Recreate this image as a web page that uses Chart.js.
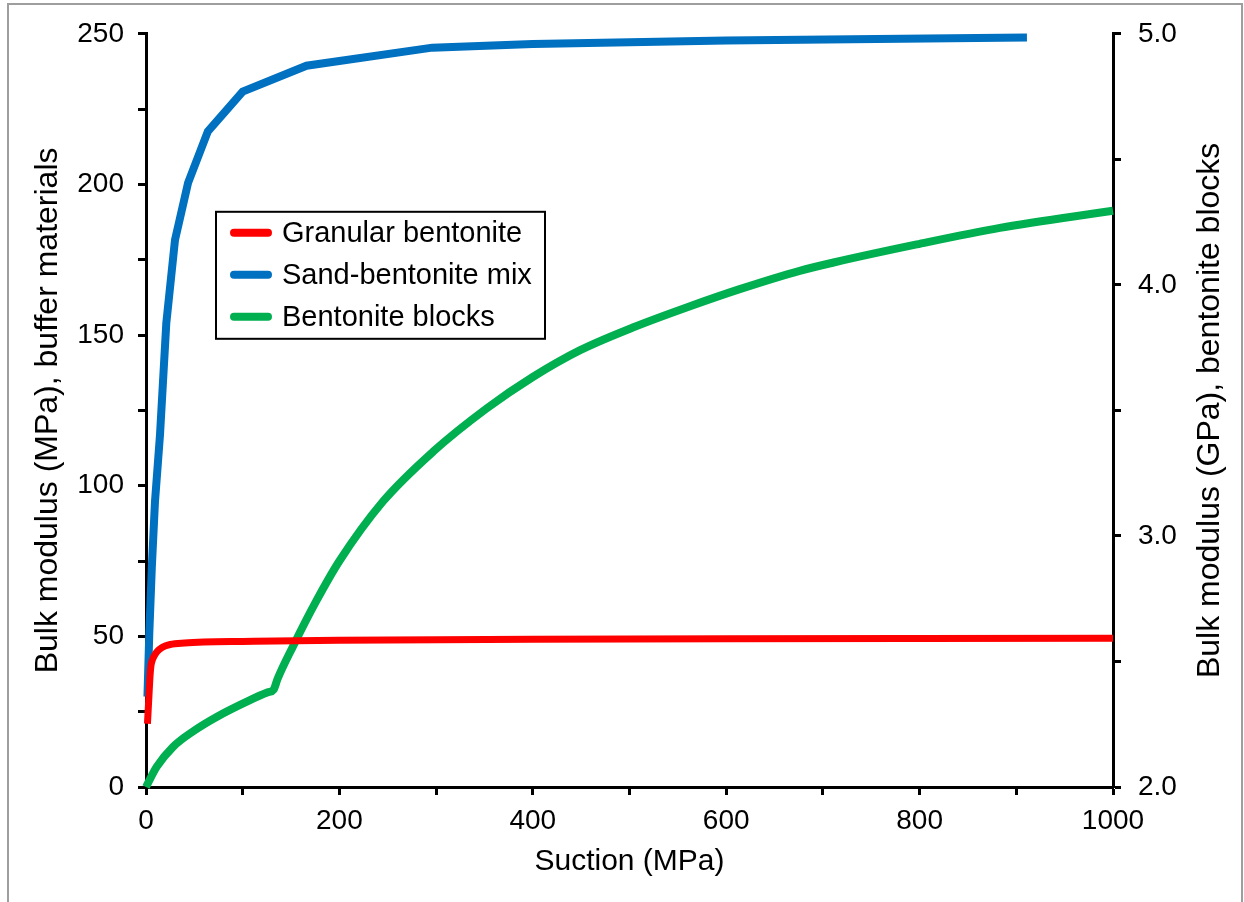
<!DOCTYPE html>
<html>
<head>
<meta charset="utf-8">
<script src="https://cdn.jsdelivr.net/npm/chart.js@4.4.1/dist/chart.umd.min.js"></script>
<style>
  html, body { margin: 0; padding: 0; background: #fff; overflow: hidden; }
  #wrap { position: relative; width: 1244px; height: 902px; }
  #frame { position: absolute; left: 7px; top: 3px; width: 1236px; height: 910px; box-sizing: border-box;
           border: 2px solid #9e9e9e; pointer-events: none; }
  canvas { display: block; }
</style>
</head>
<body>
<div id="wrap">
  <canvas id="c" width="1244" height="902"></canvas>
  <div id="frame"></div>
</div>
<script>
// ---- Data ----
const seriesNames = ['Granular bentonite', 'Sand-bentonite mix', 'Bentonite blocks'];
const seriesColors = ['#FF0000', '#0070C0', '#00B050'];

const granularSuction = [1.5, 3, 4, 5, 7, 11, 17, 25, 40, 60, 100, 200, 400, 600, 800, 1000];
const granularK       = [21, 30, 36, 40, 42.5, 44.8, 46.4, 47.3, 47.8, 48.1, 48.3, 48.7, 49.0, 49.2, 49.3, 49.4];

const sandSuction = [1.5, 3.4, 6, 9.3, 14.5, 21, 30, 43.5, 64, 100, 166, 296, 400, 600, 911];
const sandK       = [30, 51, 72.7, 94.8, 117, 154, 181.6, 200.5, 217.6, 230.8, 239.4, 245.4, 246.6, 247.8, 248.8];

const blockSuction = [0, 11, 28, 50, 73, 107, 126, 132, 136, 152, 176, 200, 245, 297, 352, 400, 449, 504, 559, 614, 676, 711, 797, 883, 1000];
const blockK       = [2.0, 2.08, 2.16, 2.225, 2.279, 2.345, 2.377, 2.388, 2.43, 2.56, 2.74, 2.90, 3.137, 3.336, 3.507, 3.633, 3.740, 3.831, 3.91, 3.983, 4.056, 4.089, 4.161, 4.227, 4.295];

const xTickLabels = [0, 200, 400, 600, 800, 1000];
const leftTickLabels = [0, 50, 100, 150, 200, 250];
const rightTickLabels = [2, 3, 4, 5];

const xTitle = 'Suction (MPa)';
const leftTitle = 'Bulk modulus (MPa), buffer materials';
const rightTitle = 'Bulk modulus (GPa), bentonite blocks';

function pts(xs, ys) { return xs.map((x, i) => ({ x: x, y: ys[i] })); }

const FONT = '"Liberation Sans", Arial, sans-serif';
const TICK_FS = 28;
const TITLE_FS = 32;
const XTITLE_FS = 30;
const LEGEND_FS = 29;

// Custom legend inside the plot area
const boxLegend = {
  id: 'boxLegend',
  afterDatasetsDraw(chart) {
    const ctx = chart.ctx, ca = chart.chartArea;
    const bx = ca.left + 70, by = ca.top + 178, bw = 329, bh = 127;
    ctx.save();
    ctx.fillStyle = '#fff';
    ctx.fillRect(bx, by, bw, bh);
    ctx.lineWidth = 2;
    ctx.strokeStyle = '#000';
    ctx.strokeRect(bx, by, bw, bh);
    ctx.font = LEGEND_FS + 'px ' + FONT;
    ctx.textBaseline = 'middle';
    ctx.fillStyle = '#000';
    chart.data.datasets.forEach((ds, i) => {
      const cy = by + 21 + i * 42;
      ctx.beginPath();
      ctx.lineCap = 'round';
      ctx.lineWidth = 8;
      ctx.strokeStyle = ds.borderColor;
      ctx.moveTo(bx + 18, cy);
      ctx.lineTo(bx + 52, cy);
      ctx.stroke();
      ctx.fillText(ds.label, bx + 66, cy + 1);
    });
    ctx.restore();
  }
};

// Right axis title reading bottom-to-top
const rightTitlePlugin = {
  id: 'rightTitlePlugin',
  afterDraw(chart) {
    const s = chart.scales.y2, ca = chart.chartArea, ctx = chart.ctx;
    ctx.save();
    ctx.translate(s.right - 34, (ca.top + ca.bottom) / 2);
    ctx.rotate(-Math.PI / 2);
    ctx.font = TITLE_FS + 'px ' + FONT;
    ctx.fillStyle = '#000';
    ctx.textAlign = 'center';
    ctx.textBaseline = 'middle';
    ctx.fillText(rightTitle, 0, 0);
    ctx.restore();
  }
};

const axisGrid = { display: true, drawOnChartArea: false, drawTicks: true, tickLength: 8, tickWidth: 3, tickColor: '#000' };
const axisBorder = { display: true, color: '#000', width: 3 };

new Chart(document.getElementById('c'), {
  type: 'line',
  data: {
    datasets: [
      { label: seriesNames[0], data: pts(granularSuction, granularK), borderColor: seriesColors[0], backgroundColor: seriesColors[0],
        borderWidth: 7, pointRadius: 0, cubicInterpolationMode: 'monotone', yAxisID: 'y', clip: false },
      { label: seriesNames[1], data: pts(sandSuction, sandK), borderColor: seriesColors[1], backgroundColor: seriesColors[1],
        borderWidth: 8, pointRadius: 0, tension: 0, yAxisID: 'y', clip: false },
      { label: seriesNames[2], data: pts(blockSuction, blockK), borderColor: seriesColors[2], backgroundColor: seriesColors[2],
        borderWidth: 8, pointRadius: 0, cubicInterpolationMode: 'monotone', yAxisID: 'y2', clip: false }
    ]
  },
  options: {
    responsive: false,
    animation: false,
    events: [],
    layout: { padding: { top: 30, left: 0, right: 0, bottom: 0 } },
    plugins: { legend: { display: false }, tooltip: { enabled: false } },
    scales: {
      x: {
        type: 'linear', position: 'bottom', min: 0, max: 1000,
        grid: axisGrid, border: axisBorder,
        ticks: { stepSize: 100, autoSkip: false, maxRotation: 0, padding: 9, color: '#000',
                 font: { family: FONT, size: TICK_FS },
                 callback: v => xTickLabels.includes(v) ? String(v) : '' },
        title: { display: true, text: xTitle, color: '#000', font: { family: FONT, size: XTITLE_FS }, padding: { top: 0, bottom: 22 } },
        afterFit: s => { s.height = 115; }
      },
      y: {
        type: 'linear', position: 'left', min: 0, max: 250,
        grid: axisGrid, border: axisBorder,
        ticks: { stepSize: 25, autoSkip: false, padding: 14, color: '#000',
                 font: { family: FONT, size: TICK_FS },
                 callback: v => leftTickLabels.includes(v) ? String(v) : '' },
        title: { display: true, text: leftTitle, color: '#000', font: { family: FONT, size: TITLE_FS }, padding: { top: 29, bottom: 0 } },
        afterFit: s => { s.width = 146; }
      },
      y2: {
        type: 'linear', position: 'right', min: 2, max: 5,
        grid: axisGrid, border: axisBorder,
        ticks: { stepSize: 0.5, autoSkip: false, padding: 17, color: '#000',
                 font: { family: FONT, size: TICK_FS },
                 callback: v => rightTickLabels.includes(v) ? v.toFixed(1) : '' },
        title: { display: false, text: rightTitle },
        afterFit: s => { s.width = 131; }
      }
    }
  },
  plugins: [boxLegend, rightTitlePlugin]
});
</script>
</body>
</html>
